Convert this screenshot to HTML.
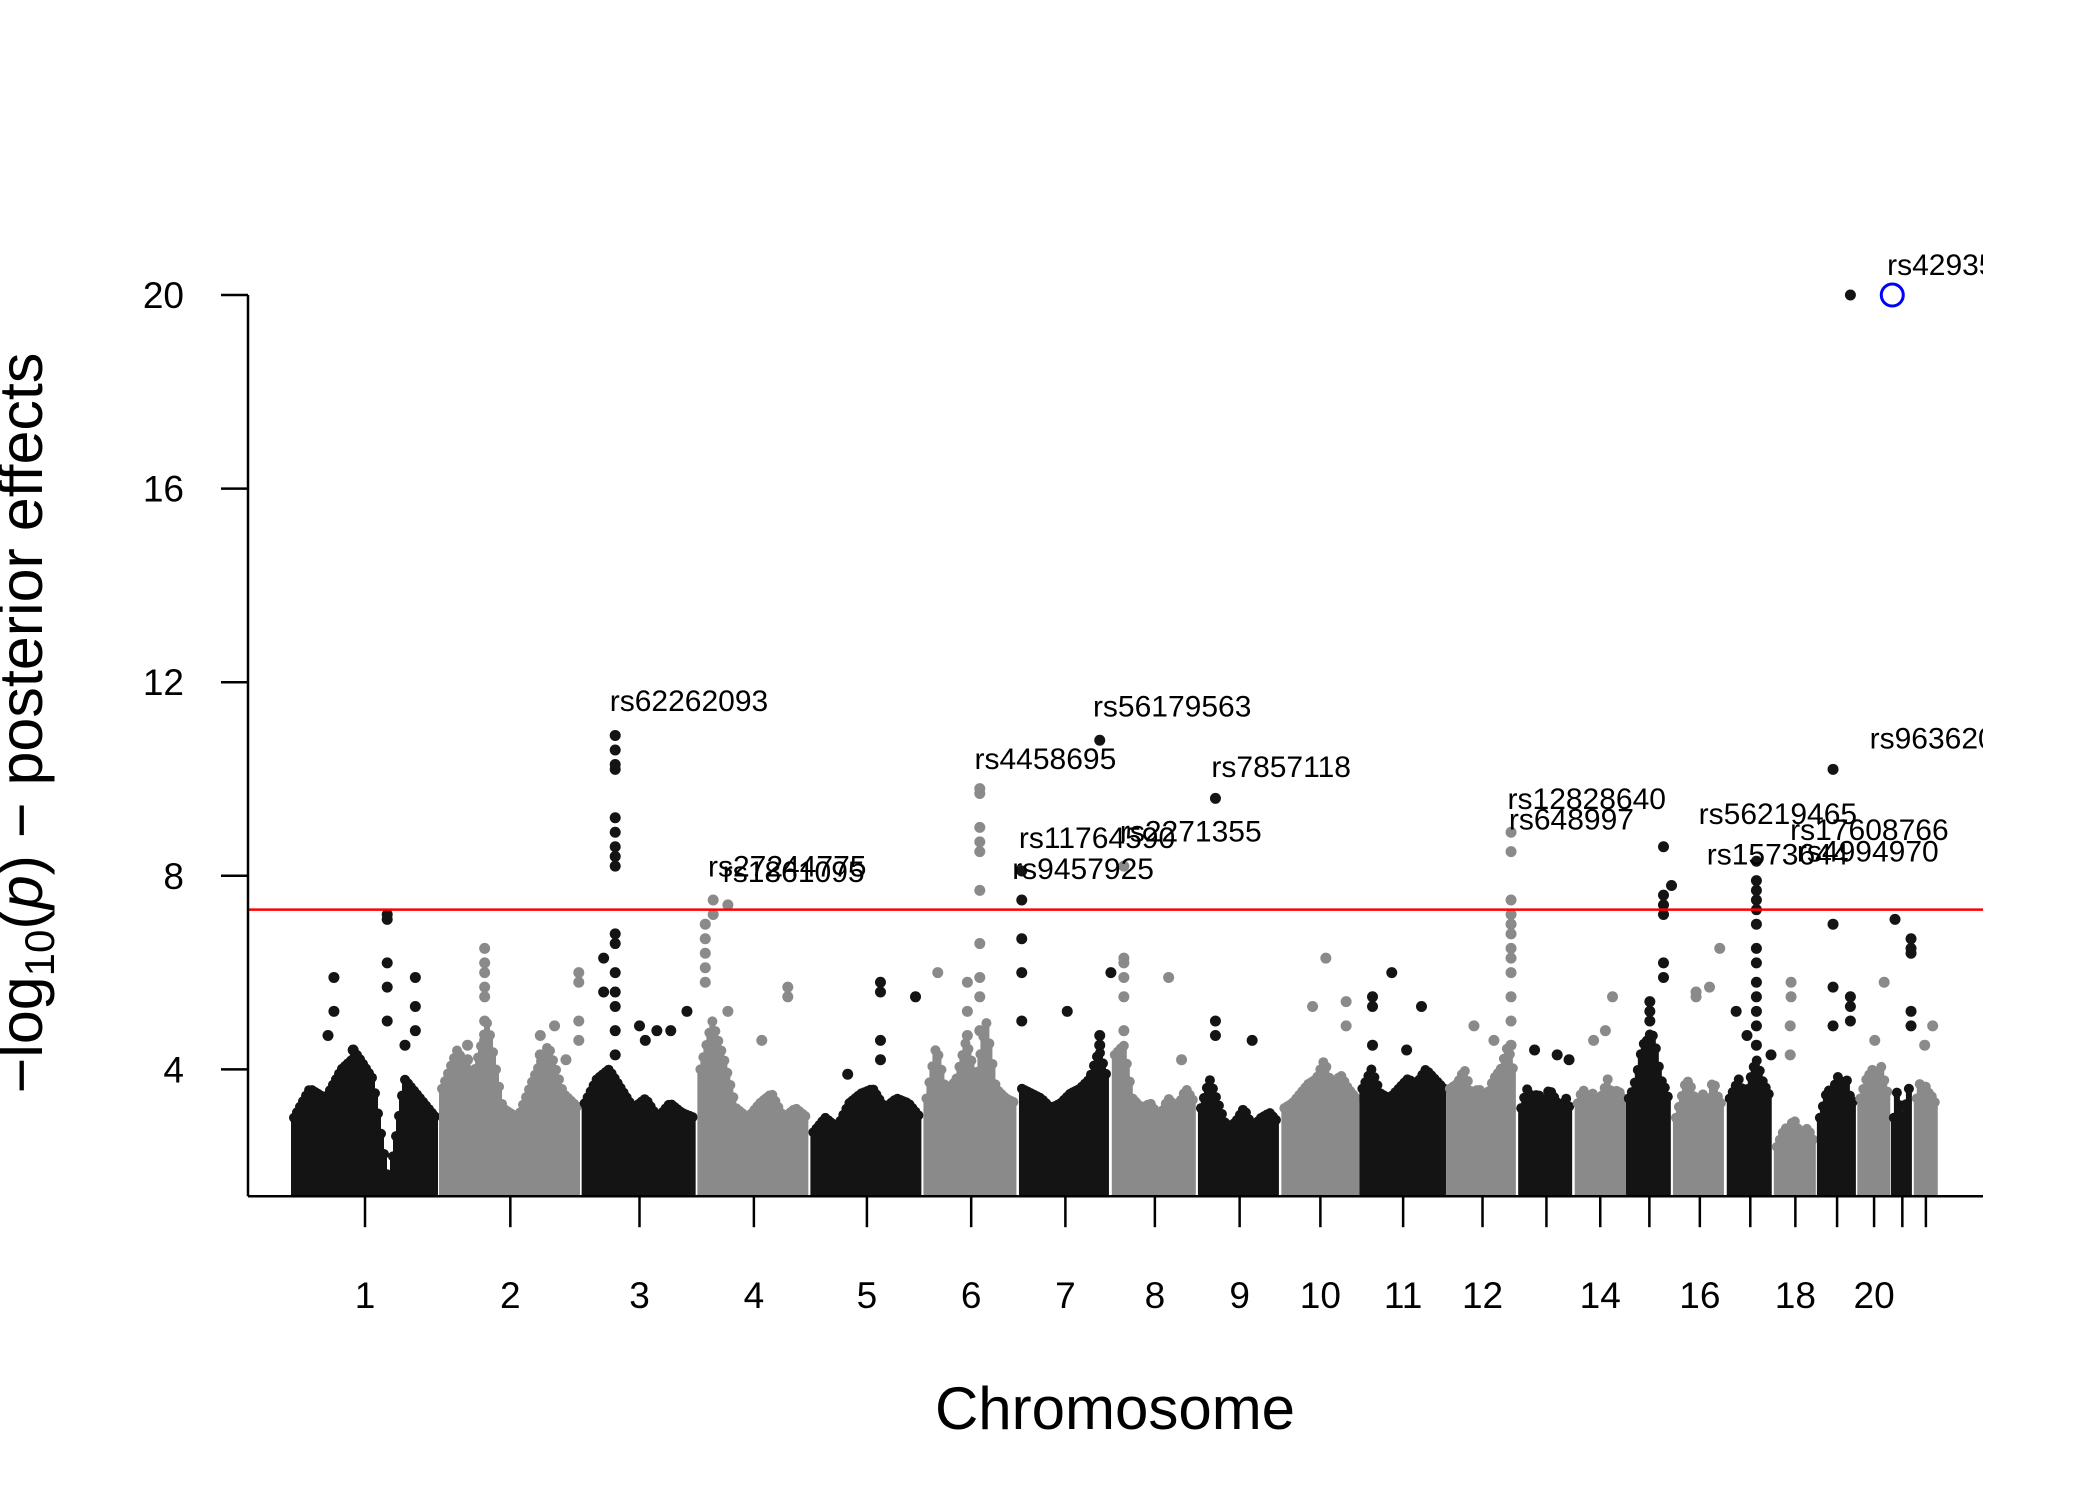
<!DOCTYPE html>
<html><head><meta charset="utf-8"><style>
html,body{margin:0;padding:0;background:#fff}
svg{display:block;font-family:"Liberation Sans",Arial,sans-serif}
</style></head><body>
<svg id="chart" width="2100" height="1500" viewBox="0 0 2100 1500" xmlns="http://www.w3.org/2000/svg">
<defs><clipPath id="plotclip"><rect x="248" y="0" width="1735" height="1200"/></clipPath></defs>
<g id="marks" clip-path="url(#plotclip)"></g>
<g id="axes"></g>
</svg>
<script>
const chrLen = [110,106,86,84,84,71,69,64,62,58,65,53,42,38,35,40,35,32,30,25,17,18];
const chrLabels = ["1","2","3","4","5","6","7","8","9","10","11","12","","14","","16","","18","","20","",""];
const yTicks = [4,8,12,16,20];
const threshold = 7.3;
const envelopes = [
[3.0,3.6,3.4,4.0,4.3,3.8,1.6,3.8,3.4,3.0],[3.6,4.4,3.8,5.0,3.2,3.0,3.8,4.5,3.5,3.2],
[3.3,3.8,4.0,3.6,3.2,3.4,3.0,3.3,3.1,3.0],[4.0,5.0,4.2,3.2,3.0,3.3,3.5,3.0,3.2,3.0],
[2.7,3.0,2.8,3.3,3.5,3.6,3.2,3.4,3.3,3.0],[3.4,4.5,3.5,3.8,4.6,3.8,5.0,3.6,3.4,3.3],
[3.6,3.5,3.4,3.2,3.3,3.5,3.6,3.8,4.4,3.7],[4.3,4.5,3.4,3.2,3.3,3.0,3.4,3.2,3.6,3.3],
[3.2,3.8,3.3,2.8,2.9,3.2,2.8,3.0,3.1,2.9],[3.2,3.3,3.5,3.7,3.8,4.2,3.6,3.9,3.6,3.4],
[3.6,4.0,3.5,3.4,3.6,3.8,3.7,4.0,3.8,3.6],[3.6,3.7,4.0,3.5,3.6,3.4,3.8,4.0,4.5,3.8],
[3.2,3.6,3.4,3.5,3.3,3.6,3.4,3.2,3.4,3.1],[3.3,3.6,3.4,3.5,3.3,3.5,3.8,3.4,3.6,3.4],
[3.4,3.6,4.0,4.5,4.6,4.8,4.4,3.8,3.6,3.3],[3.0,3.4,3.8,3.6,3.2,3.5,3.3,3.8,3.4,3.2],
[3.4,3.6,3.8,3.5,3.6,4.0,4.2,3.8,3.6,3.4],[2.4,2.6,2.8,2.7,3.0,2.8,2.6,2.8,2.7,2.5],
[3.0,3.3,3.6,3.5,3.7,3.9,3.6,3.8,3.4,3.3],[3.4,3.6,3.8,3.9,4.0,3.9,3.8,4.1,3.7,3.5],
[3.0,3.4,3.6,3.3,3.1,3.0,3.2,3.4,3.6,3.3],[3.4,3.6,3.8,3.5,3.6,3.7,3.5,3.4,3.5,3.3]];
// [chromosome index (0-based), fraction within chromosome, -log10 p]
const snpChr = [0,0,0,0,0,0,0,0,0,0,0,0,0, 1,1,1,1,1,1,1,1,1,1,1,1,1,1,1,1,1,1, 2,2,2,2,2,2,2,2,2,2,2,2,2,2,2,2,2,2,2,2,2,2,2, 3,3,3,3,3,3,3,3,3,3,3,3, 4,4,4,4,4,4, 5,5,5,5,5,5,5,5,5,5,5,5,5,5, 6,6,6,6,6,6,6,6,6,6, 7,7,7,7,7,7,7,7, 8,8,8,8, 9,9,9,9, 10,10,10,10,10,10, 11,11,11,11,11,11,11,11,11,11,11,11,11,11, 12,12,12, 13,13,13, 14,14,14,14,14,14,14,14,14,14, 15,15,15,15, 16,16,16,16,16,16,16,16,16,16,16,16,16,16,16,16, 17,17,17,17, 18,18,18,18,18,18,18,18, 19,19, 20,20,20,20,20,20, 21,21];
const snpPos = [.29,.29,.25,.65,.65,.65,.65,.65,.84,.84,.84,.77,.42, .32,.32,.32,.32,.32,.32,.32,.2,.2,.71,.71,.71,.81,.89,.98,.98,.98,.98, .29,.29,.29,.29,.29,.29,.29,.29,.29,.29,.29,.29,.29,.29,.29,.29,.19,.19,.5,.65,.91,.77,.55, .07,.07,.07,.07,.07,.14,.14,.27,.27,.57,.8,.8, .62,.62,.62,.62,.93,.33, .15,.46,.46,.46,.59,.59,.59,.59,.59,.59,.59,.59,.59,.59, .03,.03,.03,.03,.03,.52,.87,.87,.87,.99, .14,.14,.14,.14,.14,.14,.66,.81, .21,.21,.21,.65, .57,.4,.83,.83, .15,.15,.15,.37,.71,.54, .9,.9,.9,.9,.9,.9,.9,.9,.9,.9,.9,.9,.38,.66, .29,.69,.9, .74,.37,.6, .8,.8,.8,.8,.8,.8,.97,.51,.51,.51, .87,.43,.43,.68, .63,.63,.63,.63,.63,.63,.63,.63,.63,.63,.63,.63,.63,.2,.94,.43, .4,.4,.38,.38, .4,.4,.4,.4,.83,.83,.83,.83, .8,.52, .18,.88,.88,.88,.88,.88, .78,.45];
const snpVal = [5.9,5.2,4.7,7.2,7.1,6.2,5.7,5.0,5.9,5.3,4.8,4.5,4.4, 6.5,6.2,6.0,5.7,5.5,5.0,4.6,4.5,4.2,4.7,4.3,4.0,4.9,4.2,6.0,5.8,5.0,4.6, 10.9,10.6,10.3,10.2,9.2,8.9,8.6,8.4,8.2,6.8,6.6,6.0,5.6,5.3,4.8,4.3,6.3,5.6,4.9,4.8,5.2,4.8,4.6, 7.0,6.7,6.4,6.1,5.8,7.5,7.2,7.4,5.2,4.6,5.7,5.5, 5.8,5.6,4.6,4.2,5.5,3.9, 6.0,5.8,5.2,4.7,9.8,9.7,9.0,8.7,8.5,7.7,6.6,5.9,5.5,4.8, 8.1,7.5,6.7,6.0,5.0,5.2,10.8,4.7,4.5,6.0, 8.2,6.3,6.2,5.9,5.5,4.8,5.9,4.2, 9.6,5.0,4.7,4.6, 6.3,5.3,5.4,4.9, 5.5,5.3,4.5,6.0,5.3,4.4, 8.9,8.5,7.5,7.2,7.0,6.8,6.5,6.3,6.0,5.5,5.0,4.5,4.9,4.6, 4.4,4.3,4.2, 5.5,4.6,4.8, 8.6,7.6,7.4,7.2,6.2,5.9,7.8,5.4,5.2,5.0, 6.5,5.6,5.5,5.7, 8.3,7.9,7.7,7.5,7.3,7.0,6.5,6.2,5.8,5.5,5.2,4.9,4.5,5.2,4.3,4.7, 5.8,5.5,4.9,4.3, 10.2,7.0,5.7,4.9,20.0,5.5,5.3,5.0, 5.8,4.6, 7.1,6.7,6.5,6.4,5.2,4.9, 4.9,4.5];
const leadChr = 20, leadPos = 0.06, leadVal = 20.0;
const annLabels = ["rs62262093","rs56179563","rs4458695","rs7857118","rs12828640","rs648997","rs56219465","rs17608766","rs11764590","rs2271355","rs1573644","rs4994970","rs27244775","rs1861095","rs9457925","rs963620","rs42935"];
const annX = [453,812,724,900,1120,1121,1262,1330,757,832,1268,1335,526,537,752,1389,1402];
const annY = [520,524,563,569,593,608,604,616,622,617,634,632,643,647,645,548,196];

const NS="http://www.w3.org/2000/svg";
const marks=document.getElementById('marks'), axes=document.getElementById('axes');
function mk(tag,attrs,parent){const e=document.createElementNS(NS,tag);for(const k in attrs)e.setAttribute(k,attrs[k]);parent.appendChild(e);return e;}
const X0=291, X1=1938, total=chrLen.reduce((a,b)=>a+b,0);
const starts=[];let acc=0;chrLen.forEach(l=>{starts.push(acc);acc+=l;});
function xs(c,f){return X0+(starts[c]+f*chrLen[c])/total*(X1-X0);}
const yMin=1.38;
function ys(v){return 295+(20-v)*48.4;}
const S=1.346;
const base=ys(yMin);
function col(c){return c%2===0?'#141414':'#8a8a8a';}

envelopes.forEach((env,c)=>{
  const g=mk('g',{},marks);
  
  
  const xa=xs(c,0)+3, xb=xs(c,1)-3, n=env.length;
  for(let x=xa;x<=xb;x+=3){
    const t=(x-xa)/(xb-xa)*(n-1), i=Math.min(Math.floor(t),n-2), fr=t-i;
    const v=env[i]*(1-fr)+env[i+1]*fr;
    const yt=ys(v);
    mk('rect',{x:x-3,y:yt,width:6,height:base-yt,fill:col(c)},g);
    mk('circle',{cx:x,cy:yt,r:5,fill:col(c)},g);
  }
});
snpChr.forEach((c,i)=>{
  const p=mk('circle',{cx:xs(c,snpPos[i]),cy:ys(snpVal[i]),r:5.5,fill:col(c)},marks);
  
  
});
const lead=mk('circle',{cx:xs(leadChr,leadPos),cy:ys(leadVal),r:11,fill:'none',stroke:'#0000ff','stroke-width':3},marks);


const th=mk('line',{x1:248,x2:1983,y1:ys(threshold),y2:ys(threshold),stroke:'#ff0000','stroke-width':2.5},marks);


annLabels.forEach((s,i)=>{
  const t=mk('text',{x:annX[i]*S,y:annY[i]*S+11,'font-size':30,fill:'#000'},marks);
  t.textContent=s;
  
  
});

const ya=mk('line',{x1:248,x2:248,y1:ys(20),y2:base,stroke:'#000','stroke-width':2.5},axes);


yTicks.forEach(v=>{
  mk('line',{x1:221,x2:248,y1:ys(v),y2:ys(v),stroke:'#000','stroke-width':2.5},axes);
  const t=mk('text',{x:184,y:ys(v)+13,'font-size':37,'text-anchor':'end'},axes);
  t.textContent=v;
  
  
});
const xa=mk('line',{x1:248,x2:1983,y1:base,y2:base,stroke:'#000','stroke-width':2.5},axes);


chrLen.forEach((l,c)=>{
  const cx=xs(c,0.5);
  mk('line',{x1:cx,x2:cx,y1:base,y2:base+31,stroke:'#000','stroke-width':2.5},axes);
  if(chrLabels[c]){
    const t=mk('text',{x:cx,y:1308,'font-size':37,'text-anchor':'middle'},axes);
    t.textContent=chrLabels[c];
    
    
  }
});
const xt=mk('text',{x:1115,y:1429,'font-size':60,'text-anchor':'middle'},axes);
xt.textContent='Chromosome';


const yt=mk('text',{x:0,y:0,'font-size':61,'text-anchor':'middle',transform:'translate(42,723) rotate(-90)'},axes);


yt.innerHTML='\u2212log<tspan font-size="42" dy="12">10</tspan><tspan dy="-12">(</tspan><tspan font-style="italic">p</tspan>) \u2212 posterior effects';
</script>
</body></html>
